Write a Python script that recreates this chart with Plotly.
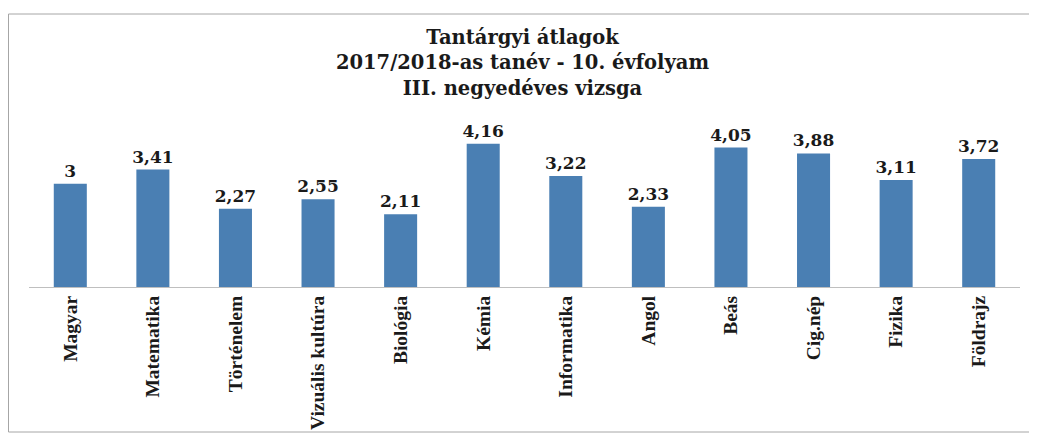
import plotly.graph_objects as go

categories = ["Magyar", "Matematika", "Történelem", "Vizuális kultúra", "Biológia", "Kémia",
              "Informatika", "Angol", "Beás", "Cig.nép", "Fizika", "Földrajz"]
values = [3, 3.41, 2.27, 2.55, 2.11, 4.16, 3.22, 2.33, 4.05, 3.88, 3.11, 3.72]
value_labels = ["3", "3,41", "2,27", "2,55", "2,11", "4,16", "3,22", "2,33", "4,05", "3,88", "3,11", "3,72"]

title_text = "Tantárgyi átlagok<br>2017/2018-as tanév - 10. évfolyam<br>III. negyedéves vizsga"

W, H = 1029, 428
L, R, T, B = 21, 17, 92, 149
pw, ph = W - L - R, H - T - B

fig = go.Figure(go.Bar(
    x=categories, y=values, text=value_labels, textposition="outside",
    constraintext="none",
    textfont=dict(family="DejaVu Serif", size=17, color="#1a1a1a", weight="bold"),
    marker=dict(color="#4a7fb3", line=dict(width=0)),
    width=0.4, cliponaxis=False,
))

fig.update_layout(
    width=W, height=H,
    margin=dict(l=L, r=R, t=T, b=B, autoexpand=False),
    paper_bgcolor="white", plot_bgcolor="white",
    showlegend=False,
    title=dict(text=title_text, x=0.5, xanchor="center", y=(H - 36) / H, yanchor="top",
               yref="container", automargin=False,
               font=dict(family="DejaVu Serif", size=19.5, color="#1a1a1a", weight="bold")),
    xaxis=dict(tickangle=-90, showgrid=False, showline=True, linecolor="#bfbfbf", linewidth=1,
               automargin=False, ticks="",
               tickfont=dict(family="Liberation Serif", size=19.5, color="#1a1a1a", weight="bold")),
    yaxis=dict(range=[0, 5.43], visible=False, showgrid=False, automargin=False),
    shapes=[dict(type="rect", xref="paper", yref="paper",
                 x0=(0.5 - L) / pw, x1=(1022 - L) / pw,
                 y0=(T + ph - 424) / ph, y1=(T + ph - 6) / ph,
                 line=dict(color="#a6a6a6", width=1))],
    bargap=0.6,
)

fig.write_html("out.html")
